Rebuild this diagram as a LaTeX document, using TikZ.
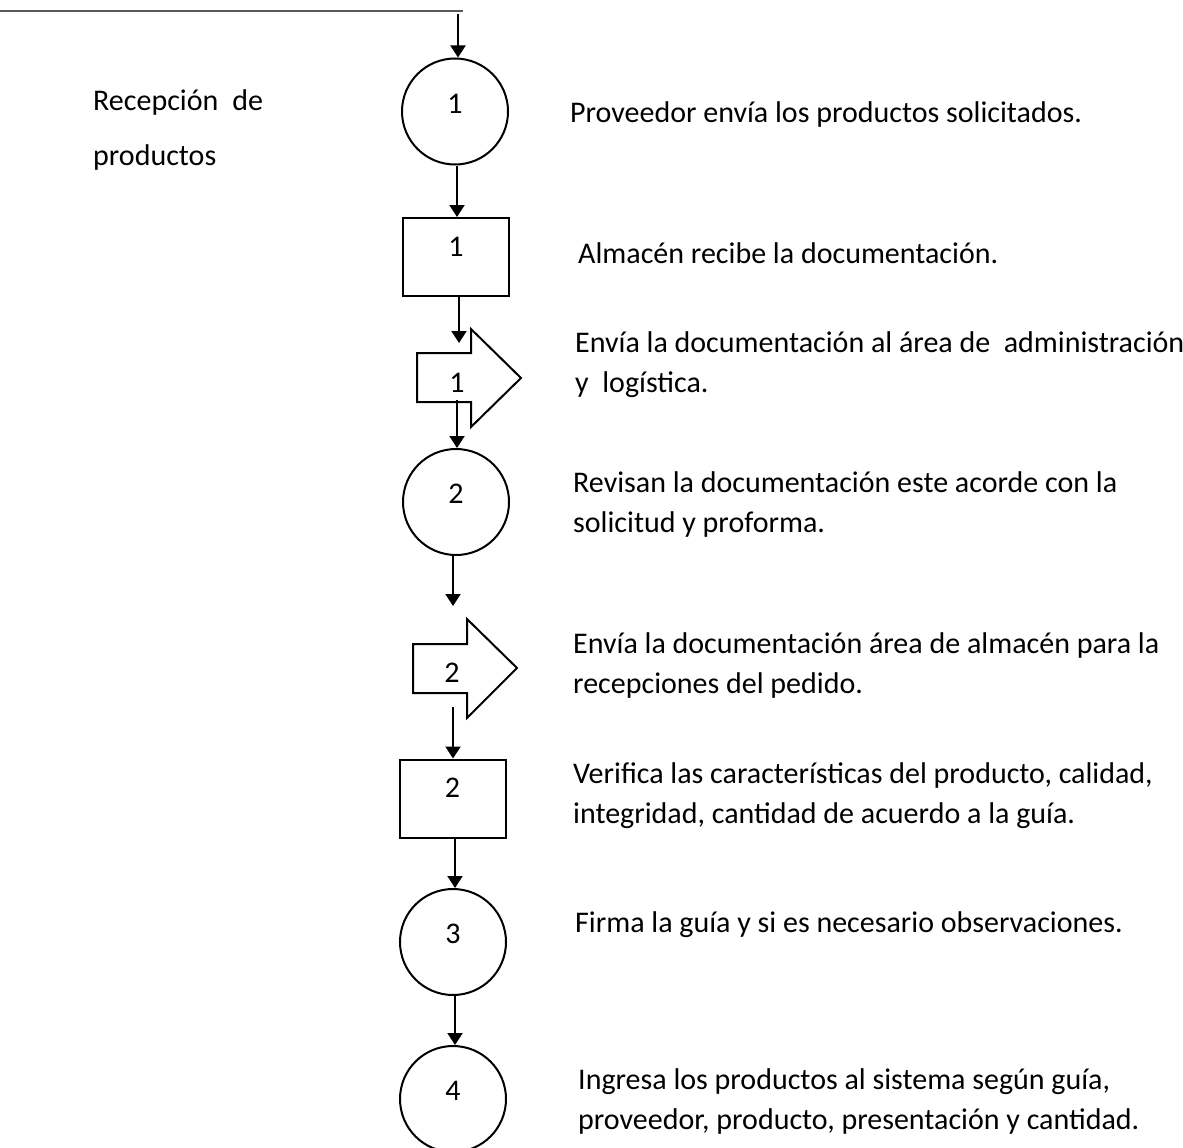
\documentclass[tikz,border=0pt]{standalone}
\usepackage{fontspec}
\setmainfont{Carlito}
\usetikzlibrary{arrows.meta}
\begin{document}
\begin{tikzpicture}[x=1pt,y=-1pt,
  every node/.style={font=\fontsize{30}{39.5}\selectfont, inner sep=0pt},
  shp/.style={draw=black, line width=2pt, fill=white},
  circ/.style={shp, circle, minimum size=106pt, text height=3pt, text depth=3pt},
  boxn/.style={shp, rectangle, minimum width=106pt, minimum height=78pt, text height=3pt, text depth=3pt},
  desc/.style={anchor=base west, align=left},
  conn/.style={line width=2pt, -{Triangle[length=12pt,width=15pt]}},
  topline/.style={line width=1.3pt, draw=black!65}
]
\useasboundingbox (0,0) rectangle (1183,1148);

% top line
\coordinate (tl0) at (0,11);
\coordinate (tl1) at (463,11);
\draw[topline] (tl0) -- (tl1);

% nodes
\node[circ] (c1) at (455,111.5) {\raisebox{-1.5pt}{1}};
\node[boxn] (r1) at (456,257) {\raisebox{1pt}{1}};
\draw[shp] (417,353) -- (471,353) -- (471,329) -- (521,378) -- (471,427) -- (471,402) -- (417,402) -- cycle;
\node[anchor=base] (b1) at (457,392) {1};
\node[circ] (c2) at (456,502) {\raisebox{-1.5pt}{2}};
\draw[shp] (413,644) -- (467,644) -- (467,619) -- (517,668) -- (467,718) -- (467,693) -- (413,693) -- cycle;
\node[anchor=base] (b2) at (452,682) {2};
\node[boxn] (r2) at (452.5,798.5) {\raisebox{1pt}{2}};
\node[circ] (c3) at (453,942) {\raisebox{-1.5pt}{3}};
\node[circ] (c4) at (453,1099) {\raisebox{-1.5pt}{4}};

% connector end points
\coordinate (s0) at (458,14);
\coordinate (e3) at (459,343);
\coordinate (s4) at (457,400);
\coordinate (e5) at (453,606);
\coordinate (s6) at (453,707);

\draw[conn] (s0) -- (s0 |- c1.north);
\draw[conn] (c1.south -| 457,0) -- (r1.north -| 457,0);
\draw[conn] (r1.south -| e3) -- (e3);
\draw[conn] (s4) -- (s4 |- c2.north);
\draw[conn] (c2.south -| e5) -- (e5);
\draw[conn] (s6) -- (s6 |- r2.north);
\draw[conn] (r2.south -| 455,0) -- (c3.north -| 455,0);
\draw[conn] (c3.south -| 455,0) -- (c4.north -| 455,0);

% texts (multi-line nodes: base = last line)
\node[desc] (lab) at (93,165) {Recepción\hspace{14pt}de\\[15.5pt]productos};
\node[desc] (t1) at (570,122) {Proveedor envía los productos solicitados.};
\node[desc] (t2) at (578,263) {Almacén recibe la documentación.};
\node[desc] (t3) at (575,392) {Envía la documentación al área de\ \ administración\\y\ \ logística.};
\node[desc] (t4) at (573,532) {Revisan la documentación este acorde con la\\solicitud y proforma.};
\node[desc] (t5) at (573,693) {Envía la documentación área de almacén para la\\recepciones del pedido.};
\node[desc] (t6) at (573,823) {Verifica las características del producto, calidad,\\integridad, cantidad de acuerdo a la guía.};
\node[desc] (t7) at (575,932) {Firma la guía y si es necesario observaciones.};
\node[desc] (t8) at (578,1129) {Ingresa los productos al sistema según guía,\\proveedor, producto, presentación y cantidad.};
\end{tikzpicture}
\end{document}
